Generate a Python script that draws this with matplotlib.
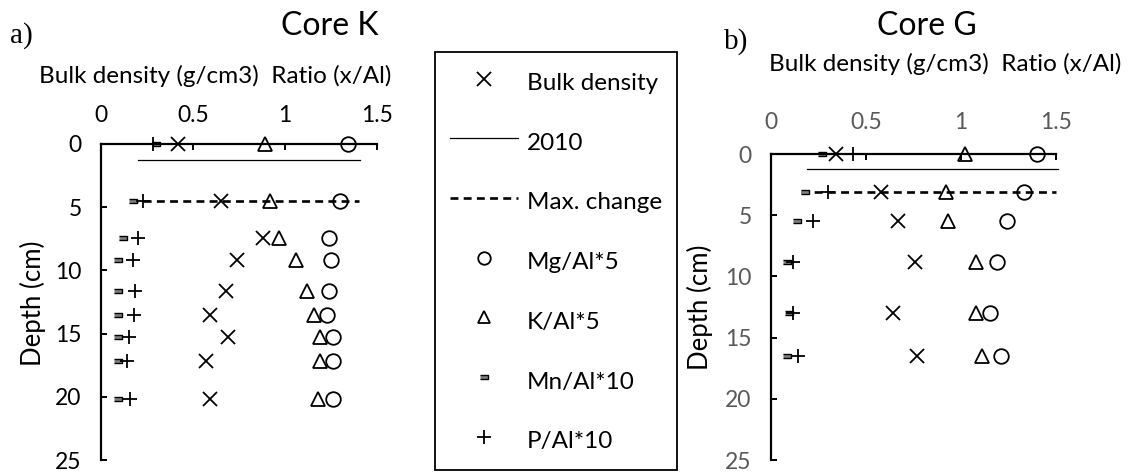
import matplotlib
matplotlib.use("Agg")
import matplotlib.pyplot as plt
from matplotlib.lines import Line2D

plt.rcParams['font.family'] = ['Lato', 'DejaVu Sans']

# Core K
depth_k = [0, 4.5, 7.4, 9.2, 11.6, 13.5, 15.3, 17.2, 20.2]
bd_k = [0.42, 0.65, 0.88, 0.74, 0.68, 0.59, 0.69, 0.57, 0.59]
mg_k = [1.34, 1.30, 1.24, 1.25, 1.24, 1.23, 1.26, 1.26, 1.26]
k_k = [0.89, 0.92, 0.97, 1.06, 1.12, 1.16, 1.19, 1.19, 1.18]
mn_k = [0.30, 0.175, 0.12, 0.095, 0.095, 0.095, 0.09, 0.09, 0.095]
p_k = [0.28, 0.23, 0.20, 0.175, 0.185, 0.18, 0.15, 0.14, 0.155]
line2010_k = (1.25, [0.20, 1.41])
maxchange_k = (4.5, [0.16, 1.40])

# Core G
depth_g = [0, 3.1, 5.5, 8.8, 13.0, 16.5]
bd_g = [0.34, 0.58, 0.67, 0.76, 0.64, 0.77]
mg_g = [1.40, 1.33, 1.24, 1.19, 1.15, 1.21]
k_g = [1.02, 0.92, 0.93, 1.08, 1.08, 1.11]
mn_g = [0.27, 0.18, 0.135, 0.085, 0.096, 0.085]
p_g = [0.43, 0.30, 0.22, 0.115, 0.115, 0.14]
line2010_g = (1.2, [0.19, 1.51])
maxchange_g = (3.1, [0.16, 1.50])

xticks = [0, 0.5, 1, 1.5]
yticks = [0, 5, 10, 15, 20, 25]

rect = [(-1, -0.45), (1, -0.45), (1, 0.45), (-1, 0.45)]
styles = {
    'bd': dict(marker='x', ms=9.5, mew=1.3, color='black', ls='none'),
    'mg': dict(marker='o', ms=10.5, mew=1.3, mfc='none', mec='black', ls='none'),
    'k': dict(marker='^', ms=10.5, mew=1.3, mfc='none', mec='black', ls='none'),
    'mn': dict(marker=rect, ms=6, mew=1.0, mfc='#808080', mec='black', ls='none'),
    'p': dict(marker='+', ms=10, mew=1.3, color='black', ls='none'),
}


def draw_core(ax, depth, bd, mg, k, mn, p, l2010, lmax, tick_color, xpad):
    ax.plot(l2010[1], [l2010[0]] * 2, color='black', lw=0.9, clip_on=False)
    ax.plot(lmax[1], [lmax[0]] * 2, color='black', lw=1.9,
            ls=(0, (3, 2)), clip_on=False)
    ax.plot(bd, depth, clip_on=False, **styles['bd'])
    ax.plot(mg, depth, clip_on=False, **styles['mg'])
    ax.plot(k, depth, clip_on=False, **styles['k'])
    ax.plot(mn, depth, clip_on=False, **styles['mn'])
    ax.plot(p, depth, clip_on=False, **styles['p'])

    ax.set_xlim(0, 1.5)
    ax.set_ylim(25, 0)
    ax.set_xticks(xticks)
    ax.set_xticklabels(['0', '0.5', '1', '1.5'])
    ax.set_yticks(yticks)
    ax.xaxis.tick_top()
    ax.spines['right'].set_visible(False)
    ax.spines['bottom'].set_visible(False)
    for s in ('top', 'left'):
        ax.spines[s].set_linewidth(1.6)
    ax.tick_params(axis='x', direction='in', length=4.5, width=1.4,
                   pad=xpad, labelsize=16.5, labelcolor=tick_color)
    ax.tick_params(axis='y', direction='in', length=4.5, width=1.4,
                   pad=14, labelsize=16.5, labelcolor=tick_color)
    ax.set_facecolor('none')


fig = plt.figure(figsize=(11.29, 4.73), dpi=100)
W, H = 1129, 473

ax_k = fig.add_axes([101 / W, 1 - 460 / H, 276 / W, 316 / H])
draw_core(ax_k, depth_k, bd_k, mg_k, k_k, mn_k, p_k, line2010_k, maxchange_k,
          'black', 13)
ax_g = fig.add_axes([771 / W, 1 - 460 / H, 285 / W, 306 / H])
draw_core(ax_g, depth_g, bd_g, mg_g, k_g, mn_g, p_g, line2010_g, maxchange_g,
          '#595959', 15)

fig.text(330 / W, 1 - 35 / H, 'Core K', fontsize=23, ha='center', va='baseline')
fig.text(927 / W, 1 - 35 / H, 'Core G', fontsize=23, ha='center', va='baseline')
fig.text(10 / W, 1 - 43 / H, 'a)', fontsize=21, family='Liberation Serif', va='baseline')
fig.text(724 / W, 1 - 49 / H, 'b)', fontsize=21, family='Liberation Serif', va='baseline')
fig.text(215 / W, 1 - 83 / H, 'Bulk density (g/cm3)  Ratio (x/Al)', fontsize=17.5,
         ha='center', va='baseline')
fig.text(945 / W, 1 - 71 / H, 'Bulk density (g/cm3)  Ratio (x/Al)', fontsize=17.5,
         ha='center', va='baseline')
fig.text(33 / W, 1 - 303 / H, 'Depth (cm)', fontsize=18.5, rotation=90,
         ha='center', va='center')
fig.text(700 / W, 1 - 307 / H, 'Depth (cm)', fontsize=18.5, rotation=90,
         ha='center', va='center')

handles = [
    Line2D([], [], **styles['bd']),
    Line2D([], [], color='black', lw=0.9),
    Line2D([], [], color='black', lw=1.9, ls=(0, (3, 2))),
    Line2D([], [], **{**styles['mg'], 'ms': 9}),
    Line2D([], [], **{**styles['k'], 'ms': 9}),
    Line2D([], [], **{**styles['mn'], 'ms': 6}),
    Line2D([], [], **{**styles['p'], 'ms': 9.5}),
]
labels = ['Bulk density', '2010', 'Max. change', 'Mg/Al*5', 'K/Al*5',
          'Mn/Al*10', 'P/Al*10']
leg = fig.legend(handles, labels, loc='upper left',
                 bbox_to_anchor=(435 / W, 1 - 52 / H), fontsize=17.5,
                 numpoints=1, handlelength=2.8, handleheight=1.51,
                 handletextpad=0.37, labelspacing=1.23, borderpad=0.62,
                 fancybox=False, framealpha=1, edgecolor='black',
                 borderaxespad=0)
leg.get_frame().set_linewidth(1.3)

fig.savefig('out.png', dpi=100)
